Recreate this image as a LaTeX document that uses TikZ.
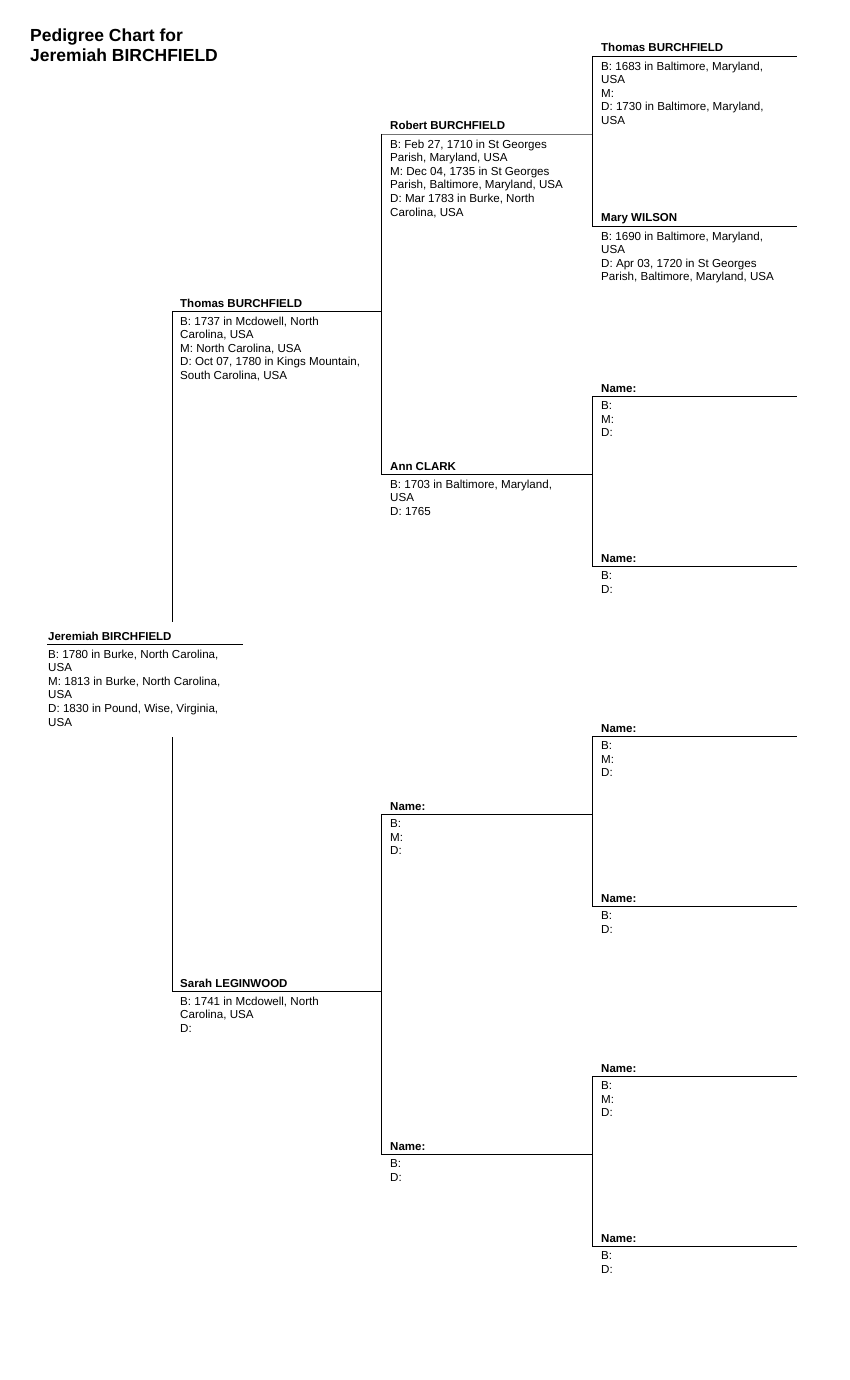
\documentclass[tikz,border=0pt]{standalone}
\usepackage{fontspec}
\setmainfont{Liberation Sans}
\begin{document}
\begin{tikzpicture}[x=1pt,y=-1pt,
  rel/.style={line width=0.9pt,black},
  relgray/.style={line width=0.9pt,black!55},
  nm/.style={anchor=base west,inner sep=0pt,font=\fontsize{11.5}{13.6}\selectfont\bfseries},
  det/.style={anchor=north west,inner sep=0pt,align=left,font=\fontsize{11.6}{13.6}\selectfont,
    execute at begin node={\rule{0pt}{9pt}}},
  ttl/.style={anchor=north west,inner sep=0pt,align=left,font=\fontsize{17.5}{19.5}\selectfont\bfseries,
    execute at begin node={\rule{0pt}{13pt}}}]
\useasboundingbox (0,0) rectangle (849,1380);
% title
\node[ttl] (title) at (30,29) {Pedigree Chart for\\Jeremiah BIRCHFIELD};
% ---------- line coordinates ----------
% generation 1
\coordinate (j1) at (47,644);  \coordinate (j2) at (243,644);
% generation 2
\coordinate (f1) at (172,311); \coordinate (f2) at (381,311);
\coordinate (m1) at (172,991); \coordinate (m2) at (381,991);
\coordinate (jtop) at (172,622); \coordinate (jbot) at (172,737);
% generation 3
\coordinate (ff1) at (381,134);  \coordinate (ff2) at (592,134);
\coordinate (fm1) at (381,474);  \coordinate (fm2) at (592,474);
\coordinate (mf1) at (381,814);  \coordinate (mf2) at (592,814);
\coordinate (mm1) at (381,1154); \coordinate (mm2) at (592,1154);
% generation 4
\coordinate (a1) at (592,56);   \coordinate (a2) at (797,56);
\coordinate (b1) at (592,226);  \coordinate (b2) at (797,226);
\coordinate (c1) at (592,396);  \coordinate (c2) at (797,396);
\coordinate (d1) at (592,566);  \coordinate (d2) at (797,566);
\coordinate (e1) at (592,736);  \coordinate (e2) at (797,736);
\coordinate (g1) at (592,906);  \coordinate (g2) at (797,906);
\coordinate (h1) at (592,1076); \coordinate (h2) at (797,1076);
\coordinate (k1) at (592,1246); \coordinate (k2) at (797,1246);
% ---------- lines ----------
\draw[rel] (j1) -- (j2);
\draw[rel] (f1) -- (f2);
\draw[rel] (m1) -- (m2);
\draw[rel] (f1) -- (jtop);
\draw[rel] (jbot) -- (m1);
\draw[relgray] (ff1) -- (ff2);
\draw[rel] (fm1) -- (fm2);
\draw[rel] (ff1) -- (fm1);
\draw[rel] (mf1) -- (mf2);
\draw[rel] (mm1) -- (mm2);
\draw[rel] (mf1) -- (mm1);
\foreach \p in {a,b,c,d,e,g,h,k}{\draw[rel] (\p1) -- (\p2);}
\draw[rel] (a1) -- (b1);
\draw[rel] (c1) -- (d1);
\draw[rel] (e1) -- (g1);
\draw[rel] (h1) -- (k1);
% ---------- generation 1 ----------
\node[nm] (jn) at (48,640) {Jeremiah BIRCHFIELD};
\node[det] (jd) at (48,649.5) {B: 1780 in Burke, North Carolina,\\USA\\M: 1813 in Burke, North Carolina,\\USA\\D: 1830 in Pound, Wise, Virginia,\\USA};
% ---------- generation 2 ----------
\node[nm] (fn) at (180,307) {Thomas BURCHFIELD};
\node[det] (fd) at (180,316.5) {B: 1737 in Mcdowell, North\\Carolina, USA\\M: North Carolina, USA\\D: Oct 07, 1780 in Kings Mountain,\\South Carolina, USA};
\node[nm] (mn) at (180,987) {Sarah LEGINWOOD};
\node[det] (md) at (180,996.5) {B: 1741 in Mcdowell, North\\Carolina, USA\\D:};
% ---------- generation 3 ----------
\node[nm] (ffn) at (390,130) {Robert BURCHFIELD};
\node[det] (ffd) at (390,139.5) {B: Feb 27, 1710 in St Georges\\Parish, Maryland, USA\\M: Dec 04, 1735 in St Georges\\Parish, Baltimore, Maryland, USA\\D: Mar 1783 in Burke, North\\Carolina, USA};
\node[nm] (fmn) at (390,470) {Ann CLARK};
\node[det] (fmd) at (390,479.5) {B: 1703 in Baltimore, Maryland,\\USA\\D: 1765};
\node[nm] (mfn) at (390,810) {Name:};
\node[det] (mfd) at (390,819.5) {B:\\M:\\D:};
\node[nm] (mmn) at (390,1150) {Name:};
\node[det] (mmd) at (390,1159.5) {B:\\D:};
% ---------- generation 4 ----------
\node[nm] (an) at (601,52) {Thomas BURCHFIELD};
\node[det] (ad) at (601,61.5) {B: 1683 in Baltimore, Maryland,\\USA\\M:\\D: 1730 in Baltimore, Maryland,\\USA};
\node[nm] (bn) at (601,222) {Mary WILSON};
\node[det] (bd) at (601,231.5) {B: 1690 in Baltimore, Maryland,\\USA\\D: Apr 03, 1720 in St Georges\\Parish, Baltimore, Maryland, USA};
\node[nm] (cn) at (601,392) {Name:};
\node[det] (cd) at (601,401.5) {B:\\M:\\D:};
\node[nm] (dn) at (601,562) {Name:};
\node[det] (dd) at (601,571.5) {B:\\D:};
\node[nm] (en) at (601,732) {Name:};
\node[det] (ed) at (601,741.5) {B:\\M:\\D:};
\node[nm] (gn) at (601,902) {Name:};
\node[det] (gd) at (601,911.5) {B:\\D:};
\node[nm] (hn) at (601,1072) {Name:};
\node[det] (hd) at (601,1081.5) {B:\\M:\\D:};
\node[nm] (kn) at (601,1242) {Name:};
\node[det] (kd) at (601,1251.5) {B:\\D:};
\end{tikzpicture}
\end{document}
